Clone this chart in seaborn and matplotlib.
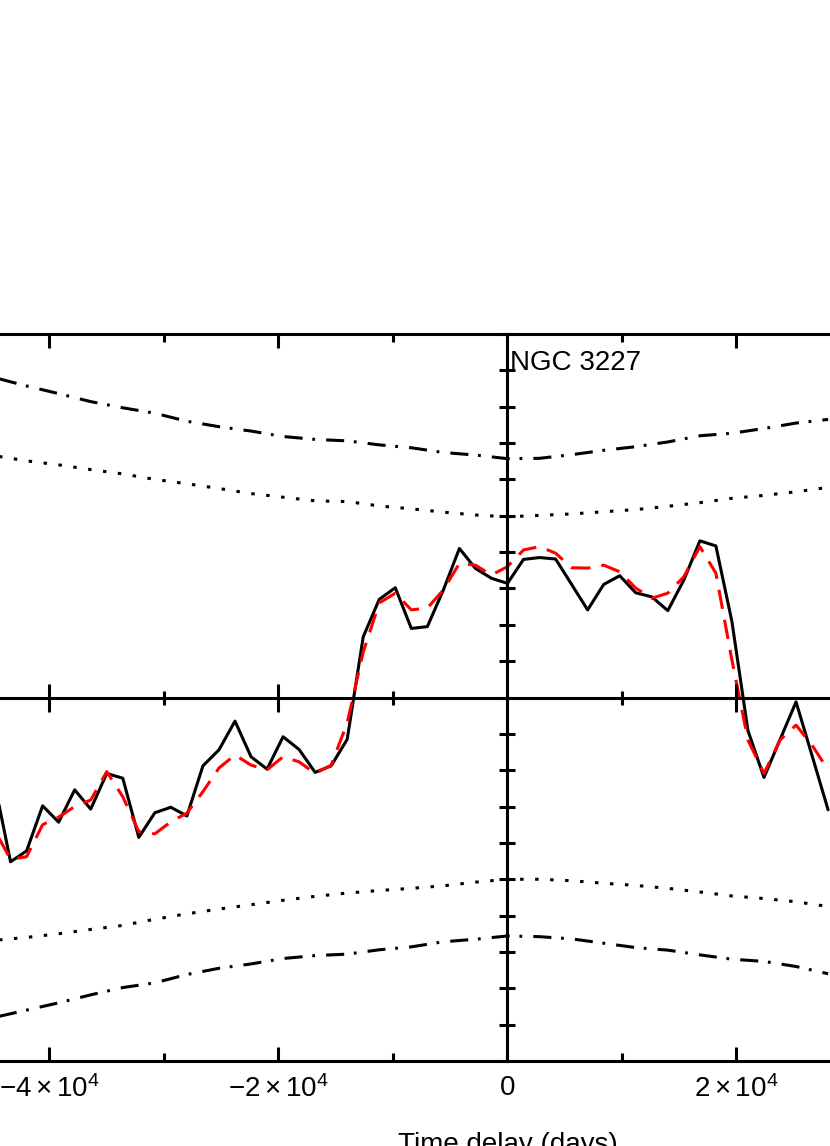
import matplotlib
matplotlib.use("Agg")
import matplotlib.pyplot as plt
import numpy as np
import pandas as pd
import seaborn as sns
from matplotlib.ticker import MultipleLocator, FuncFormatter, NullFormatter

# ─── dados ───────────────────────────────────────────────────────────────────
lag = np.arange(-44800, 28001, 1400)          # passo de 1400 dias
ccf_obs = [-0.235, -0.452, -0.422, -0.298, -0.343, -0.254, -0.307, -0.209, -0.222, -0.385,
           -0.317, -0.302, -0.326, -0.188, -0.144, -0.065, -0.163, -0.197, -0.108, -0.143,
           -0.206, -0.188, -0.115, 0.167, 0.270, 0.302, 0.190, 0.195, 0.296, 0.410,
           0.355, 0.328, 0.314, 0.380, 0.385, 0.381, 0.311, 0.241, 0.311, 0.335,
           0.288, 0.277, 0.239, 0.323, 0.431, 0.417, 0.209, -0.091, -0.220, -0.116,
           -0.012, -0.160, -0.309]
ccf_model = [-0.365, -0.445, -0.438, -0.350, -0.329, -0.300, -0.282, -0.204, -0.273, -0.369,
             -0.375, -0.342, -0.318, -0.259, -0.194, -0.158, -0.186, -0.199, -0.163, -0.177,
             -0.209, -0.186, -0.070, 0.125, 0.260, 0.287, 0.241, 0.246, 0.296, 0.369,
             0.364, 0.337, 0.360, 0.406, 0.415, 0.397, 0.357, 0.356, 0.364, 0.346,
             0.301, 0.273, 0.287, 0.332, 0.415, 0.342, 0.103, -0.117, -0.209, -0.117,
             -0.076, -0.131, -0.200]

lag_sig = np.arange(-44800, 28001, 2800)
sig_hi_99 = [0.880, 0.857, 0.836, 0.814, 0.797, 0.782, 0.760, 0.745, 0.733, 0.718,
             0.710, 0.706, 0.695, 0.687, 0.674, 0.667, 0.657, 0.658, 0.668, 0.680,
             0.690, 0.703, 0.720, 0.727, 0.740, 0.755, 0.765]
sig_hi_95 = [0.665, 0.651, 0.640, 0.627, 0.615, 0.600, 0.588, 0.575, 0.561, 0.551,
             0.541, 0.539, 0.527, 0.519, 0.510, 0.502, 0.497, 0.501, 0.505, 0.511,
             0.517, 0.526, 0.536, 0.548, 0.556, 0.566, 0.578]
sig_lo_95 = [-0.668, -0.660, -0.650, -0.638, -0.627, -0.610, -0.595, -0.582, -0.570, -0.558,
             -0.547, -0.538, -0.531, -0.525, -0.518, -0.508, -0.500, -0.500, -0.504, -0.511,
             -0.517, -0.525, -0.535, -0.546, -0.553, -0.562, -0.575]
sig_lo_99 = [-0.880, -0.860, -0.840, -0.818, -0.798, -0.785, -0.762, -0.745, -0.733, -0.718,
             -0.710, -0.706, -0.694, -0.686, -0.672, -0.665, -0.656, -0.658, -0.664, -0.676,
             -0.688, -0.695, -0.708, -0.720, -0.726, -0.740, -0.760]

# ─── estilo ──────────────────────────────────────────────────────────────────
sns.set_style("white")
plt.rcParams["font.family"] = ["Liberation Sans", "DejaVu Sans"]
plt.rcParams["mathtext.fontset"] = "custom"
plt.rcParams["mathtext.rm"] = "Liberation Sans"
plt.rcParams["mathtext.it"] = "Liberation Sans:italic"
plt.rcParams["lines.scale_dashes"] = False
plt.rcParams["text.color"] = "black"
plt.rcParams["axes.labelcolor"] = "black"
plt.rcParams["xtick.color"] = "black"
plt.rcParams["ytick.color"] = "black"

LW = 2.2
fig = plt.figure(figsize=(8.3, 11.46), dpi=100)
rect = [0, 85 / 1146, 1, 727 / 1146]
ax = fig.add_axes(rect)
xlim = (-44323, 28166)
ylim = (-1, 1)

df = pd.DataFrame({"lag": lag, "obs": ccf_obs, "model": ccf_model})
sig = pd.DataFrame({"lag": lag_sig, "hi99": sig_hi_99, "hi95": sig_hi_95,
                    "lo95": sig_lo_95, "lo99": sig_lo_99})

dashdot = (0, (13, 7, 2, 8))
dotted = (0, (2.5, 8.3))
for col, ls in [("hi99", dashdot), ("hi95", dotted), ("lo95", dotted), ("lo99", dashdot)]:
    sns.lineplot(data=sig, x="lag", y=col, ax=ax, color="black", lw=LW,
                 linestyle=ls, estimator=None, sort=False)

sns.lineplot(data=df, x="lag", y="obs", ax=ax, color="black", lw=LW,
             estimator=None, sort=False)
sns.lineplot(data=df, x="lag", y="model", ax=ax, color="red", lw=LW,
             linestyle=(0, (14, 8)), estimator=None, sort=False)

ax.set_xlim(*xlim)
ax.set_ylim(*ylim)
ax.set_ylabel("")
for s in ["left", "right"]:
    ax.spines[s].set_visible(False)
for s in ["top", "bottom"]:
    ax.spines[s].set_linewidth(LW)
    ax.spines[s].set_color("black")


def fmt(v, pos):
    if abs(v) < 1:
        return "0"
    m = int(round(v / 1e4))
    sign = "-" if m < 0 else ""
    return r"$\mathregular{%s%d\times10^{4}}$" % (sign, abs(m))


ax.xaxis.set_major_locator(MultipleLocator(20000))
ax.xaxis.set_minor_locator(MultipleLocator(10000))
ax.xaxis.set_major_formatter(FuncFormatter(fmt))
ax.tick_params(axis="x", which="both", direction="in", top=True, bottom=True,
               width=LW, color="black", labelsize=20, labelcolor="black", pad=10)
ax.tick_params(axis="x", which="major", length=10)
ax.tick_params(axis="x", which="minor", length=5.5)
ax.tick_params(axis="y", left=False, right=False, labelleft=False)
ax.set_xlabel("Time delay (days)", fontsize=20, color="black")
ax.xaxis.set_label_coords(507.5 / 830, -71 / 727)

ax.text(200, 0.9, "NGC 3227", fontsize=20, color="black", ha="left", va="baseline")

# eixos no zero
ax2 = fig.add_axes(rect, facecolor="none")
ax2.set_xlim(*xlim)
ax2.set_ylim(*ylim)
ax2.spines["left"].set_position(("data", 0))
ax2.spines["bottom"].set_position(("data", 0))
ax2.spines["top"].set_visible(False)
ax2.spines["right"].set_visible(False)
for s in ["left", "bottom"]:
    ax2.spines[s].set_linewidth(LW)
    ax2.spines[s].set_color("black")
ax2.xaxis.set_major_locator(MultipleLocator(20000))
ax2.xaxis.set_minor_locator(MultipleLocator(10000))
ax2.yaxis.set_major_locator(MultipleLocator(0.1))
ax2.xaxis.set_major_formatter(NullFormatter())
ax2.yaxis.set_major_formatter(NullFormatter())
ax2.tick_params(axis="both", which="both", direction="inout", width=LW, color="black",
                bottom=True, left=True, top=False, right=False)
ax2.tick_params(axis="x", which="major", length=20)
ax2.tick_params(axis="x", which="minor", length=10.5)
ax2.tick_params(axis="y", which="major", length=11)

fig.savefig("out.png", dpi=100)
